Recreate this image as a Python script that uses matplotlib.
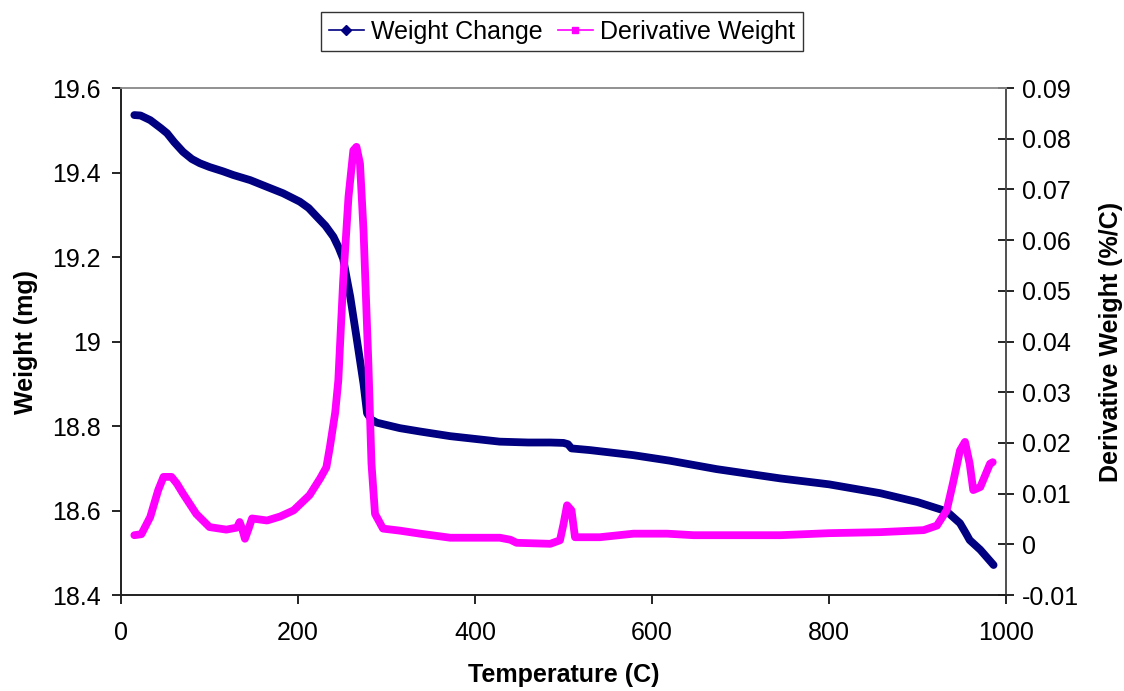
import matplotlib
matplotlib.use("Agg")
import matplotlib.pyplot as plt
from matplotlib.lines import Line2D

plt.rcParams['font.family'] = ['Liberation Sans', 'DejaVu Sans']
plt.rcParams['axes.unicode_minus'] = False

# Thermogravimetric data: weight (mg) vs temperature (C)
temp_w = [15, 22, 33, 45, 52, 60, 70, 80, 89, 100, 115, 127, 146, 165, 183,
          202, 212, 221, 231, 240, 246, 251, 255, 259, 266, 274, 278, 283,
          289, 315, 338, 372, 428, 460, 485, 500, 505, 509, 530, 579, 620,
          673, 745, 800, 858, 900, 933, 948, 955, 959, 971, 986]
weight = [19.536, 19.535, 19.524, 19.505, 19.493, 19.472, 19.449, 19.432,
          19.422, 19.413, 19.403, 19.394, 19.382, 19.366, 19.351, 19.331,
          19.316, 19.296, 19.274, 19.248, 19.222, 19.196, 19.150, 19.106,
          19.011, 18.900, 18.830, 18.815, 18.808, 18.795, 18.787, 18.776,
          18.763, 18.761, 18.761, 18.760, 18.757, 18.747, 18.743, 18.731,
          18.718, 18.698, 18.676, 18.662, 18.641, 18.620, 18.598, 18.570,
          18.545, 18.530, 18.507, 18.471]

# Derivative weight (%/C) vs temperature (C)
temp_d = [15, 23, 33, 42, 48, 57, 63, 70, 85, 100, 119, 131, 134, 137, 140,
          144, 148, 165, 180, 195, 213, 225, 232, 236, 242, 245.5, 251, 257,
          262.5, 266, 270, 274, 279.5, 283, 287, 296, 315, 338, 372, 428,
          440, 447, 485, 496, 500, 504, 509, 513, 541, 579, 617, 647, 673,
          745, 800, 858, 907, 922, 933, 940, 948, 953.7, 959, 963, 971, 982,
          985]
deriv = [0.0018, 0.0020, 0.0054, 0.0107, 0.0133, 0.0133, 0.0120, 0.0100,
         0.0060, 0.0034, 0.0029, 0.0033, 0.0044, 0.0030, 0.0011, 0.0030,
         0.0051, 0.0047, 0.0055, 0.0067, 0.0097, 0.0130, 0.0152, 0.0192,
         0.0260, 0.0323, 0.0520, 0.0685, 0.0777, 0.0784, 0.0751, 0.0619,
         0.0356, 0.0159, 0.0060, 0.0031, 0.0027, 0.0021, 0.0013, 0.0013,
         0.0009, 0.0003, 0.0001, 0.0008, 0.0040, 0.0077, 0.0067, 0.0014,
         0.0014, 0.0021, 0.0021, 0.0018, 0.0018, 0.0018, 0.0022, 0.0024,
         0.0028, 0.0037, 0.0067, 0.0120, 0.0185, 0.0202, 0.0159, 0.0107,
         0.0113, 0.0159, 0.0162]

x_ticks = [0, 200, 400, 600, 800, 1000]
w_ticks = [18.4, 18.6, 18.8, 19.0, 19.2, 19.4, 19.6]
w_labels = ['18.4', '18.6', '18.8', '19', '19.2', '19.4', '19.6']
d_ticks = [-0.01, 0, 0.01, 0.02, 0.03, 0.04, 0.05, 0.06, 0.07, 0.08, 0.09]
d_labels = ['-0.01', '0', '0.01', '0.02', '0.03', '0.04', '0.05', '0.06',
            '0.07', '0.08', '0.09']

NAVY = '#000080'
MAGENTA = '#FF00FF'
FS = 18

fig = plt.figure(figsize=(11.24, 6.91), dpi=100)
ax = fig.add_axes([0.1077, 0.1389, 0.7873, 0.7337])
ax2 = ax.twinx()

ax.plot(temp_w, weight, color=NAVY, lw=5.6, solid_joinstyle='round',
        solid_capstyle='round')
ax2.plot(temp_d, deriv, color=MAGENTA, lw=5.6, solid_joinstyle='round',
         solid_capstyle='round')

ax.set_xlim(0, 1000)
ax.set_ylim(18.4, 19.6)
ax2.set_ylim(-0.01, 0.09)

ax.set_xticks(x_ticks)
ax.set_xticklabels([str(v) for v in x_ticks], fontsize=FS)
ax.set_yticks(w_ticks)
ax.set_yticklabels(w_labels, fontsize=FS)
ax2.set_yticks(d_ticks)
ax2.set_yticklabels(d_labels, fontsize=FS)

ax.tick_params(axis='x', direction='out', length=6.5, width=1.2, pad=12)
ax.tick_params(axis='y', direction='out', length=6.5, width=1.2, pad=8)
ax2.tick_params(axis='y', direction='inout', length=11.5, width=1.2, pad=6)

for a in (ax, ax2):
    a.spines['top'].set_color('#909090')
    a.spines['left'].set_color('#202020')
    a.spines['bottom'].set_color('#202020')
    a.spines['right'].set_color('#505050')
    for s in a.spines.values():
        s.set_linewidth(1.2)

ax.set_xlabel('Temperature (C)', fontsize=FS, fontweight='bold', labelpad=13)
ax.set_ylabel('Weight (mg)', fontsize=FS, fontweight='bold', labelpad=10)
ax2.set_ylabel('Derivative Weight (%/C)', fontsize=FS, fontweight='bold',
               labelpad=14)

handles = [
    Line2D([], [], color=NAVY, lw=1.2, marker='D', markersize=5),
    Line2D([], [], color=MAGENTA, lw=1.2, marker='s', markersize=5),
]
leg = fig.legend(handles, ['Weight Change', 'Derivative Weight'],
                 loc='center', bbox_to_anchor=(0.5, 0.954), ncol=2,
                 fontsize=FS, frameon=True, fancybox=False,
                 handlelength=1.4, handletextpad=0.3, columnspacing=0.6,
                 borderpad=0.3)
leg.get_frame().set_edgecolor('black')
leg.get_frame().set_linewidth(1.0)

fig.savefig('out.png', dpi=100)
